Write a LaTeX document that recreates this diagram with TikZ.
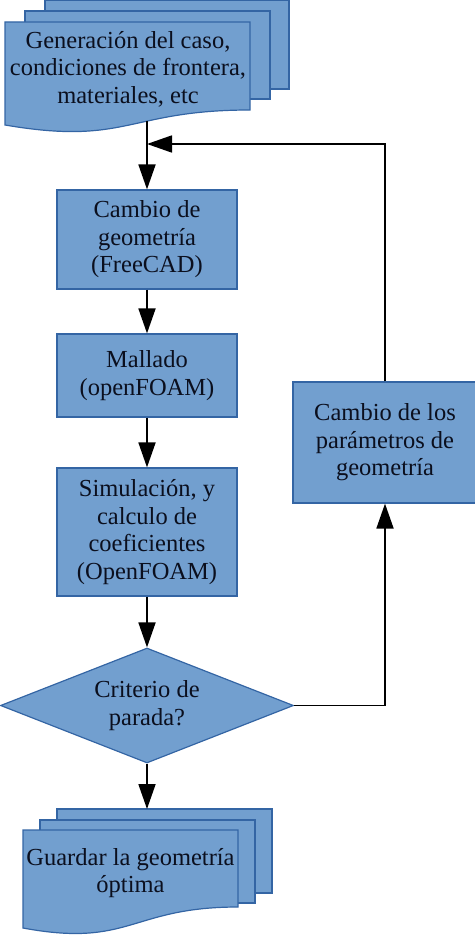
\documentclass[tikz,border=0pt]{standalone}
\usepackage{fontspec}
\setmainfont{Liberation Serif}
\usetikzlibrary{shapes.geometric,arrows.meta}
\definecolor{fillblue}{HTML}{729FCF}
\definecolor{edgeblue}{HTML}{3465A4}
\definecolor{inkcol}{HTML}{0B0F1E}
\begin{document}
\begin{tikzpicture}[x=1pt,y=-1pt,
  shapebox/.style={draw=edgeblue,fill=fillblue,line width=1.2pt},
  bigtext/.style={font=\fontsize{24.5}{27.4}\selectfont,text=inkcol,align=center},
  procbox/.style={shapebox,rectangle,inner sep=0pt,bigtext},
  doctext/.style={inner sep=0pt,bigtext},
  decision/.style={shapebox,diamond,aspect=2.55,inner sep=0pt,minimum width=293pt,minimum height=115pt,bigtext},
  arr/.style={line width=1.8pt,draw=black,-{Triangle[length=25pt,width=17pt]}}]
\useasboundingbox (0,0) rectangle (474,936);

% top multi-document
\draw[shapebox] (45,0.8) rectangle (289,89);
\draw[shapebox] (25,11) rectangle (270,99);
\draw[shapebox] (5,22) -- (250,22) -- (250,110) .. controls (127.5,110) and (127.5,146) .. (5,125) -- cycle;
\node[doctext] (gen) at (128,69) {Generación del caso,\\condiciones de frontera,\\materiales, etc};
\coordinate (genout) at (147,121);

% process boxes
\node[procbox,minimum width=180pt,minimum height=99pt] (b1) at (147,239.5) {Cambio de\\geometría\\(FreeCAD)};
\node[procbox,minimum width=180pt,minimum height=83pt] (b2) at (147,375.5) {Mallado\\(openFOAM)};
\node[procbox,minimum width=180pt,minimum height=128pt] (b3) at (147,532) {Simulación, y\\calculo de\\coeficientes\\(OpenFOAM)};
\node[procbox,minimum width=184pt,minimum height=121pt] (rb) at (385,442.5) {Cambio de los\\parámetros de\\geometría};

% decision
\node[decision] (dia) at (147,705.5) {Criterio de\\parada?};

% bottom multi-document
\draw[shapebox] (57,809) rectangle (272,893);
\draw[shapebox] (40,820) rectangle (255,903);
\draw[shapebox] (23,830) -- (238,830) -- (238,907) .. controls (130.5,907) and (130.5,948) .. (23,928) -- cycle;
\node[doctext] (guard) at (130.5,873) {Guardar la geometría\\óptima};
\coordinate (guardin) at (147,809);

% connectors
\coordinate (junc) at (147,144);
\draw[arr] (genout) -- (b1.north);
\draw[arr] (b1.south) -- (b2.north);
\draw[arr] (b2.south) -- (b3.north);
\draw[arr] (b3.south) -- (dia.north);
\draw[arr] (dia.south) -- (guardin);
\draw[arr] (dia.east) -| (rb.south);
\draw[arr] (rb.north) |- (junc);
\end{tikzpicture}
\end{document}
